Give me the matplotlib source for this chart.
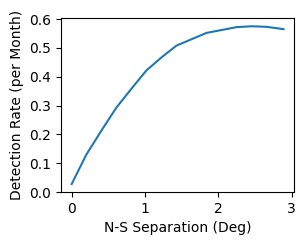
import matplotlib
matplotlib.use("Agg")
import matplotlib.pyplot as plt

# separation (deg) and detection rate (per month)
sep = [0.0, 0.2, 0.41, 0.61, 0.82, 1.02, 1.23, 1.43, 1.84, 2.25, 2.46, 2.66, 2.89]
rate = [0.028, 0.13, 0.215, 0.293, 0.36, 0.422, 0.468, 0.508, 0.552, 0.572, 0.575, 0.573, 0.565]

fig = plt.figure(figsize=(3.07, 2.45), dpi=100)
ax = fig.add_axes([0.199, 0.216, 0.759, 0.709])
ax.plot(sep, rate, color="#1f77b4")
ax.set_xlabel("N-S Separation (Deg)")
ax.set_ylabel("Detection Rate (per Month)")
ax.set_xticks([0, 1, 2, 3])
ax.set_yticks([0.0, 0.1, 0.2, 0.3, 0.4, 0.5, 0.6])

fig.savefig("out.png", dpi=100)
